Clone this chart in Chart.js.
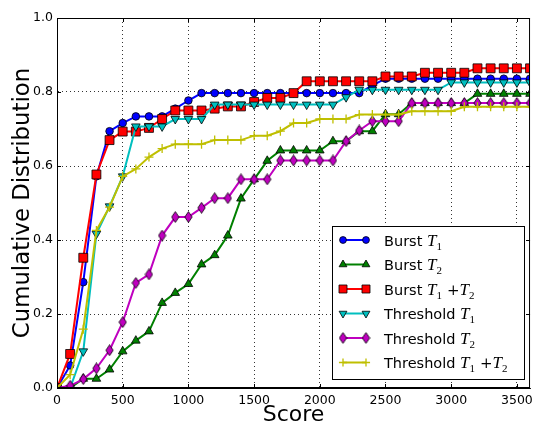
<!DOCTYPE html>
<html>
  <head>
    <meta charset="utf-8">
    <script src="https://cdn.jsdelivr.net/npm/chart.js@4.4.0/dist/chart.umd.min.js"></script>
    <style>
      body { margin: 0; background: #fff; }
    </style>
  </head>
  <body>
    <canvas id="cdfChart" width="538" height="424"></canvas>
    <script>
      const scores = [0, 100, 200, 300, 400, 500, 600, 700, 800, 900, 1000, 1100, 1200, 1300, 1400, 1500, 1600, 1700, 1800,
                      1900, 2000, 2100, 2200, 2300, 2400, 2500, 2600, 2700, 2800, 2900, 3000, 3100, 3200, 3300, 3400, 3500, 3600];

      const burstT1 = [0, 0.061, 0.286, 0.572, 0.694, 0.716, 0.734, 0.734, 0.734, 0.755, 0.777, 0.797, 0.797, 0.797, 0.797, 0.797, 0.797, 0.797, 0.797,
                       0.797, 0.797, 0.797, 0.797, 0.797, 0.818, 0.836, 0.836, 0.836, 0.836, 0.836, 0.836, 0.836, 0.836, 0.836, 0.836, 0.836, 0.836];
      const burstT2 = [0, 0, 0.025, 0.025, 0.05, 0.099, 0.128, 0.153, 0.23, 0.257, 0.281, 0.334, 0.359, 0.412, 0.512, 0.564, 0.614, 0.642, 0.642,
                       0.642, 0.642, 0.667, 0.667, 0.694, 0.694, 0.740, 0.740, 0.770, 0.770, 0.770, 0.770, 0.770, 0.795, 0.795, 0.795, 0.795, 0.795];
      const burstT1T2 = [0, 0.092, 0.352, 0.577, 0.670, 0.693, 0.693, 0.703, 0.727, 0.750, 0.750, 0.750, 0.755, 0.761, 0.761, 0.773, 0.784, 0.784, 0.797,
                         0.829, 0.829, 0.829, 0.829, 0.829, 0.829, 0.842, 0.842, 0.842, 0.852, 0.852, 0.852, 0.852, 0.864, 0.864, 0.864, 0.864, 0.864];
      const threshT1 = [0, 0, 0.099, 0.417, 0.491, 0.572, 0.707, 0.707, 0.707, 0.727, 0.727, 0.727, 0.766, 0.766, 0.766, 0.766, 0.766, 0.766, 0.766,
                        0.766, 0.766, 0.766, 0.786, 0.806, 0.806, 0.806, 0.806, 0.806, 0.806, 0.806, 0.826, 0.826, 0.826, 0.826, 0.826, 0.826, 0.826];
      const threshT2 = [0, 0.006, 0.024, 0.053, 0.102, 0.178, 0.284, 0.307, 0.412, 0.462, 0.462, 0.487, 0.513, 0.513, 0.564, 0.564, 0.564, 0.615, 0.615,
                        0.615, 0.615, 0.615, 0.667, 0.696, 0.721, 0.721, 0.721, 0.770, 0.770, 0.770, 0.770, 0.770, 0.770, 0.770, 0.770, 0.770, 0.770];
      const threshT1T2 = [0, 0.036, 0.159, 0.426, 0.489, 0.572, 0.592, 0.624, 0.647, 0.659, 0.659, 0.659, 0.670, 0.670, 0.670, 0.682, 0.682, 0.694, 0.716,
                          0.716, 0.727, 0.727, 0.727, 0.739, 0.739, 0.739, 0.739, 0.748, 0.748, 0.748, 0.748, 0.760, 0.760, 0.760, 0.760, 0.760, 0.760];

      const seriesNames = ['Burst', 'Burst', 'Burst', 'Threshold', 'Threshold', 'Threshold'];
      const seriesSubs = [['1'], ['2'], ['1', '2'], ['1'], ['2'], ['1', '2']];
      const seriesColors = ['#0000ff', '#008000', '#ff0000', '#00bfbf', '#bf00bf', '#bfbf00'];
      const xTicks = [0, 500, 1000, 1500, 2000, 2500, 3000, 3500];

      // thin diamond marker like matplotlib 'd'
      function makeDiamond(color) {
        const c = document.createElement('canvas');
        c.width = 9; c.height = 12;
        const g = c.getContext('2d');
        g.beginPath();
        g.moveTo(4.5, 0.6); g.lineTo(8.2, 6); g.lineTo(4.5, 11.4); g.lineTo(0.8, 6);
        g.closePath();
        g.fillStyle = color; g.fill();
        g.lineWidth = 0.8; g.strokeStyle = '#000'; g.stroke();
        return c;
      }

      const markers = [
        {pointStyle: 'circle', radius: 3.8, rotation: 0},
        {pointStyle: 'triangle', radius: 5, rotation: 0},
        {pointStyle: 'rect', radius: 6.3, rotation: 0},
        {pointStyle: 'triangle', radius: 5, rotation: 180},
        {pointStyle: makeDiamond(seriesColors[4]), radius: 5, rotation: 0},
        {pointStyle: 'cross', radius: 4.5, rotation: 0}
      ];

      const seriesData = [burstT1, burstT2, burstT1T2, threshT1, threshT2, threshT1T2];

      const datasets = seriesData.map((vals, i) => ({
        label: seriesNames[i] + ' T' + seriesSubs[i].join('+T'),
        data: vals.map((v, k) => ({x: scores[k], y: v})),
        borderColor: seriesColors[i],
        backgroundColor: seriesColors[i],
        borderWidth: 2,
        tension: 0,
        pointStyle: markers[i].pointStyle,
        pointRadius: markers[i].radius,
        pointRotation: markers[i].rotation,
        pointBackgroundColor: seriesColors[i],
        pointBorderColor: i === 5 ? seriesColors[i] : '#000',
        pointBorderWidth: i === 5 ? 1.3 : 0.8,
        order: 5 - i
      }));

      function drawLegendText(ctx, x, y, word, subs) {
        ctx.fillStyle = '#000';
        ctx.textBaseline = 'alphabetic';
        ctx.textAlign = 'left';
        ctx.font = '14.5px "DejaVu Sans"';
        ctx.fillText(word + ' ', x, y);
        x += ctx.measureText(word + ' ').width;
        subs.forEach((s, k) => {
          if (k > 0) {
            x += 5;
            ctx.font = '15px "DejaVu Serif"';
            ctx.fillText('+', x, y);
            x += ctx.measureText('+').width;
          }
          ctx.font = 'italic 17px "Liberation Serif"';
          ctx.fillText('T', x, y);
          x += ctx.measureText('T').width;
          ctx.font = '11px "Liberation Serif"';
          ctx.fillText(s, x, y + 4);
          x += ctx.measureText(s).width;
        });
      }

      const framePlugin = {
        id: 'frameAndLegend',
        afterDraw(chart) {
          const ctx = chart.ctx;
          const a = chart.chartArea;
          const xs = chart.scales.x, ys = chart.scales.y;
          ctx.save();
          ctx.strokeStyle = '#000';
          ctx.lineWidth = 1;
          // inner ticks
          ctx.beginPath();
          xTicks.forEach(v => {
            const px = Math.round(xs.getPixelForValue(v)) + 0.5;
            ctx.moveTo(px, a.bottom); ctx.lineTo(px, a.bottom - 4);
            ctx.moveTo(px, a.top); ctx.lineTo(px, a.top + 4);
          });
          ys.ticks.forEach(t => {
            const py = Math.round(ys.getPixelForValue(t.value)) + 0.5;
            ctx.moveTo(a.left, py); ctx.lineTo(a.left + 4, py);
            ctx.moveTo(a.right, py); ctx.lineTo(a.right - 4, py);
          });
          ctx.stroke();
          ctx.strokeRect(a.left + 0.5, a.top + 0.5, a.right - a.left - 1, a.bottom - a.top - 1);

          // legend box
          const bx = 332.5, by = 226.5, bw = 192, bh = 153;
          ctx.fillStyle = '#fff';
          ctx.fillRect(bx, by, bw, bh);
          ctx.strokeRect(bx, by, bw, bh);
          const rowY = [240, 264.5, 289, 313.5, 338, 362.5];
          chart.data.datasets.forEach((ds, i) => {
            const y = rowY[i];
            ctx.strokeStyle = ds.borderColor;
            ctx.lineWidth = 2;
            ctx.beginPath(); ctx.moveTo(343, y); ctx.lineTo(366, y); ctx.stroke();
            [343, 366].forEach(px => {
              ctx.fillStyle = ds.pointBackgroundColor;
              ctx.strokeStyle = ds.pointBorderColor;
              ctx.lineWidth = ds.pointBorderWidth;
              Chart.helpers.drawPoint(ctx, {
                pointStyle: ds.pointStyle, radius: ds.pointRadius * 0.9,
                rotation: ds.pointRotation, borderWidth: ds.pointBorderWidth
              }, px, y);
            });
            drawLegendText(ctx, 384, y + 5.5, seriesNames[i], seriesSubs[i]);
          });
          ctx.restore();
        }
      };

      Chart.defaults.font.family = '"DejaVu Sans"';
      Chart.defaults.color = '#000';

      new Chart(document.getElementById('cdfChart'), {
        type: 'line',
        data: {datasets},
        options: {
          responsive: false,
          animation: false,
          layout: {padding: {top: 18, right: 4, left: 0, bottom: 0}},
          plugins: {legend: {display: false}, tooltip: {enabled: false}},
          scales: {
            x: {
              type: 'linear', min: 0, max: 3600,
              afterBuildTicks: s => { s.ticks = xTicks.map(v => ({value: v})); },
              afterFit: s => { s.height = 36; },
              ticks: {stepSize: 500, padding: 5, maxRotation: 0, font: {size: 12.5}, color: '#000', callback: v => String(v)},
              grid: {color: '#000', lineWidth: 0.8, drawTicks: false},
              border: {display: true, color: '#000', width: 1, dash: [1, 3]},
              title: {display: true, text: 'Score', color: '#000', font: {size: 22, lineHeight: 0.8}, padding: {top: 0, bottom: 0}}
            },
            y: {
              min: 0, max: 1,
              afterFit: s => { s.width = 57; },
              ticks: {stepSize: 0.2, padding: 4, font: {size: 12.5}, color: '#000', callback: v => v.toFixed(1)},
              grid: {color: '#000', lineWidth: 0.8, drawTicks: false},
              border: {display: true, color: '#000', width: 1, dash: [1, 3]},
              title: {display: true, text: 'Cumulative Distribution', color: '#000', font: {size: 22.8, lineHeight: 1}, padding: {top: 12, bottom: 0}}
            }
          }
        },
        plugins: [framePlugin]
      });
    </script>
  </body>
</html>
